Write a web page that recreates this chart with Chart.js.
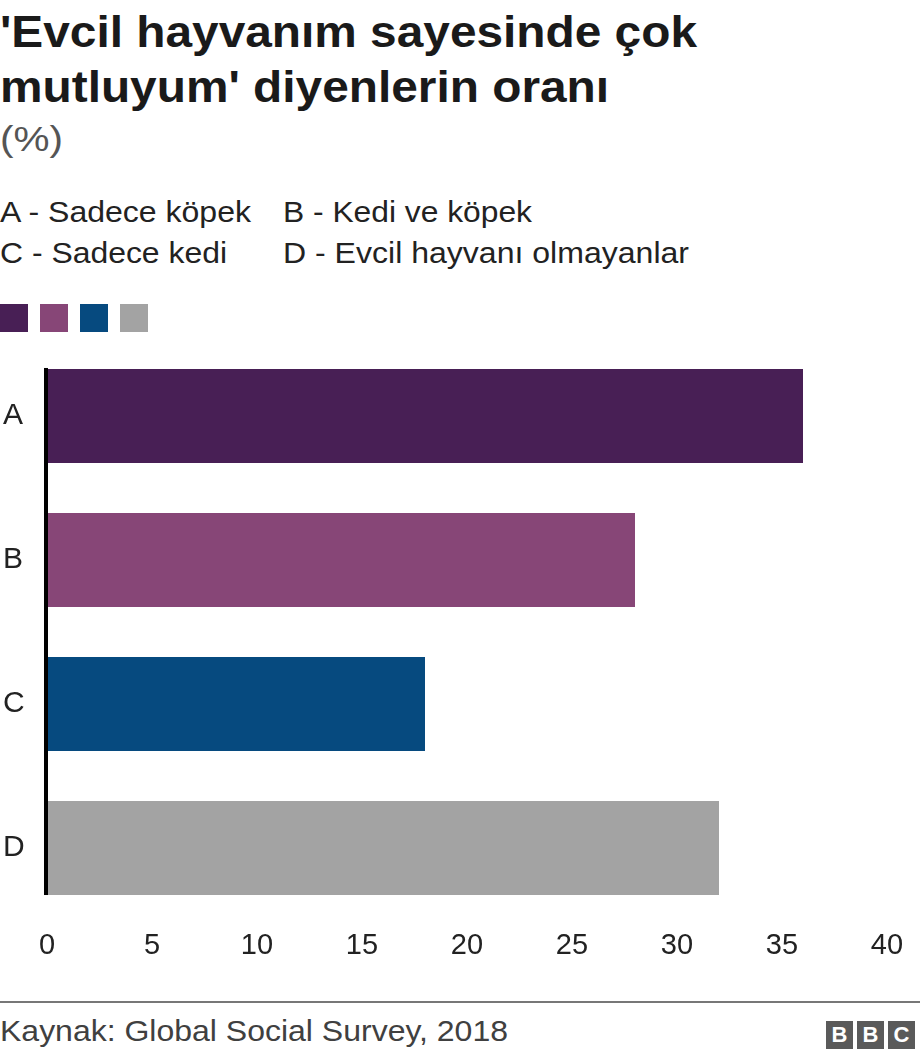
<!DOCTYPE html>
<html><head><meta charset="utf-8">
<script src="https://cdn.jsdelivr.net/npm/chart.js@4"></script>
<style>
html,body{margin:0;padding:0;background:#fff;width:920px;height:1058px;overflow:hidden;font-family:"Liberation Sans",Arial,Helvetica,sans-serif;}
.t{position:absolute;white-space:nowrap;transform-origin:0 0;margin:0;}
#title{left:0;top:4px;font-size:44px;font-weight:bold;line-height:55px;color:#1a1a1a;}
#title span{display:block;}
#sub{left:0;top:121px;font-size:35px;line-height:35px;color:#555;}
.leg{font-size:29px;line-height:29px;color:#222;}
.sq{position:absolute;top:304px;width:28px;height:28px;}
#wrap{position:absolute;left:0;top:329px;width:920px;height:647px;}
#rule{position:absolute;left:0;top:1001px;width:920px;height:2px;background:#777;}
#src{left:0;top:1017px;font-size:29px;line-height:29px;color:#404040;}
.bbc{position:absolute;top:1021px;width:27px;height:28px;background:#5a5a5a;color:#fff;font-weight:bold;font-size:22px;line-height:28px;text-align:center;}
</style></head><body>
<div id="title" class="t"><span id="tl1">'Evcil hayvanım sayesinde çok</span><span>mutluyum' diyenlerin oranı</span></div>
<div id="sub" class="t">(%)</div>
<div id="la" class="t leg" style="left:0;top:198px">A - Sadece köpek</div>
<div id="lb" class="t leg" style="left:283px;top:198px">B - Kedi ve köpek</div>
<div id="lc" class="t leg" style="left:0;top:239px">C - Sadece kedi</div>
<div id="ld" class="t leg" style="left:283px;top:239px">D - Evcil hayvanı olmayanlar</div>
<div id="sqs"></div>
<div id="wrap"><canvas id="c" width="920" height="647"></canvas></div>
<div id="rule"></div>
<div id="src" class="t">Kaynak: Global Social Survey, 2018</div>
<div class="bbc" style="left:826px">B</div>
<div class="bbc" style="left:857px">B</div>
<div class="bbc" style="left:888px">C</div>
<script>
const categories = ["A", "B", "C", "D"];
const values = [36, 28, 18, 32];
const barColors = ["#481f55", "#874677", "#064a7f", "#a3a3a3"];
const xTicks = [0, 5, 10, 15, 20, 25, 30, 35, 40];

// horizontal fitting of text widths to the reference
function fit(el, measureEl, target) {
  const w = measureEl.getBoundingClientRect().width;
  if (w > 0) el.style.transform = 'scaleX(' + (target / w) + ')';
}
const tl1 = document.getElementById('tl1');
tl1.style.display = 'inline-block';
fit(document.getElementById('title'), tl1, 697);
fit(document.getElementById('sub'), document.getElementById('sub'), 63);
fit(document.getElementById('la'), document.getElementById('la'), 251);
fit(document.getElementById('lb'), document.getElementById('lb'), 249);
fit(document.getElementById('lc'), document.getElementById('lc'), 227);
fit(document.getElementById('ld'), document.getElementById('ld'), 406);
fit(document.getElementById('src'), document.getElementById('src'), 508);

const sqs = document.getElementById('sqs');
barColors.forEach((c, i) => {
  const d = document.createElement('div');
  d.className = 'sq';
  d.style.left = (i * 40) + 'px';
  d.style.background = c;
  sqs.appendChild(d);
});

const zeroLine = {
  id: 'zeroLine',
  afterDatasetsDraw(chart) {
    const meta = chart.getDatasetMeta(0);
    const first = meta.data[0], last = meta.data[meta.data.length - 1];
    const x = chart.scales.x.getPixelForValue(0);
    const top = first.y - first.height / 2 - 1;
    const bottom = last.y + last.height / 2;
    const ctx = chart.ctx;
    ctx.save();
    ctx.fillStyle = '#000';
    ctx.fillRect(x - 3, top, 4, bottom - top);
    ctx.restore();
  }
};

new Chart(document.getElementById('c'), {
  type: 'bar',
  data: {
    labels: categories,
    datasets: [{
      data: values,
      backgroundColor: barColors,
      borderWidth: 0,
      barPercentage: 0.653,
      categoryPercentage: 1
    }]
  },
  options: {
    indexAxis: 'y',
    responsive: false,
    animation: false,
    layout: { padding: { top: 0, right: 33, left: 3, bottom: 0 } },
    plugins: { legend: { display: false }, tooltip: { enabled: false } },
    scales: {
      x: {
        min: 0, max: 40,
        afterBuildTicks(s) { s.ticks = xTicks.map(v => ({ value: v })); },
        afterFit(s) { s.height = 56; },
        grid: { display: false, drawTicks: false },
        border: { display: false },
        ticks: { color: '#222', padding: 11, maxRotation: 0, font: { family: '"Liberation Sans", Arial, sans-serif', size: 29, lineHeight: 1 } }
      },
      y: {
        afterFit(s) { s.width = 44; },
        grid: { display: false, drawTicks: false },
        border: { display: false },
        ticks: { color: '#222', crossAlign: 'far', padding: 0, font: { family: '"Liberation Sans", Arial, sans-serif', size: 30, lineHeight: 1 } }
      }
    }
  },
  plugins: [zeroLine]
});
</script>
</body></html>
